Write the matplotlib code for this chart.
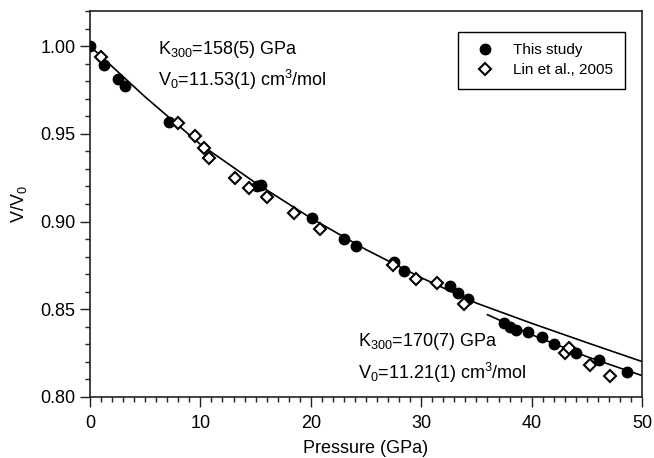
import numpy as np
import matplotlib
matplotlib.use("Agg")
import matplotlib.pyplot as plt
from matplotlib.ticker import MultipleLocator, FormatStrFormatter

plt.rcParams['font.family'] = ['Liberation Sans', 'DejaVu Sans']
plt.rcParams['mathtext.fontset'] = 'custom'
plt.rcParams['mathtext.rm'] = 'Liberation Sans'
plt.rcParams['mathtext.it'] = 'Liberation Sans:italic'

# -------- data --------
this_p = [0.0, 1.3, 2.5, 3.2, 7.2, 15.1, 15.5, 20.1, 23.0, 24.1, 27.5, 28.4,
          32.6, 33.3, 34.2, 37.5, 38.0, 38.6, 39.7, 40.9, 42.0, 44.0, 46.1, 48.6]
this_v = [1.000, 0.989, 0.981, 0.977, 0.957, 0.920, 0.921, 0.902, 0.890, 0.886, 0.877, 0.872,
          0.863, 0.859, 0.856, 0.842, 0.840, 0.838, 0.837, 0.834, 0.830, 0.825, 0.821, 0.814]

lin_p = [1.0, 8.0, 9.5, 10.3, 10.8, 13.1, 14.4, 16.0, 18.5, 20.8, 27.4, 29.5,
         31.4, 33.9, 43.0, 43.4, 45.3, 47.1]
lin_v = [0.994, 0.956, 0.949, 0.942, 0.936, 0.925, 0.919, 0.914, 0.905, 0.896, 0.875, 0.867,
         0.865, 0.853, 0.825, 0.828, 0.818, 0.812]

# fitted EOS curves
fit1_p = [0, 5, 10, 15, 20, 25, 30, 35, 40, 45, 50]
fit1_v = [1.000, 0.971, 0.944, 0.922, 0.902, 0.884, 0.868, 0.8535, 0.842, 0.831, 0.8202]
fit2_p = [36, 40, 45, 50]
fit2_v = [0.8469, 0.8355, 0.8230, 0.8122]

# -------- plot --------
fig = plt.figure(figsize=(6.54, 4.58), dpi=100)
ax = fig.add_axes([0.1376, 0.1332, 0.8441, 0.8428])

ax.plot(fit1_p, fit1_v, color='black', lw=1.2, zorder=1)
ax.plot(fit2_p, fit2_v, color='black', lw=1.2, zorder=1)
h1, = ax.plot(this_p, this_v, 'o', color='black', ms=7.5, zorder=3, label='This study')
h2, = ax.plot(lin_p, lin_v, 'D', mfc='white', mec='black', mew=1.5, ms=6.5, zorder=4,
              label='Lin et al., 2005')

ax.set_xlim(0, 50)
ax.set_ylim(0.80, 1.02)
ax.xaxis.set_major_locator(MultipleLocator(10))
ax.xaxis.set_minor_locator(MultipleLocator(1))
ax.yaxis.set_major_locator(MultipleLocator(0.05))
ax.yaxis.set_minor_locator(MultipleLocator(0.01))
ax.yaxis.set_major_formatter(FormatStrFormatter('%.2f'))
ax.tick_params(which='major', direction='out', length=7, width=1, labelsize=13, colors='#222222')
ax.tick_params(which='minor', direction='out', length=3.5, width=1, colors='#222222')
ax.tick_params(axis='both', labelcolor='black')
ax.tick_params(axis='x', pad=6)
for s in ax.spines.values():
    s.set_linewidth(1.2)
    s.set_color('#222222')

ax.set_xlabel('Pressure (GPa)', fontsize=13, labelpad=6)
ax.set_ylabel('V/V$_0$', fontsize=13, labelpad=8)

ax.text(6.2, 0.9982, 'K$_{300}$=158(5) GPa', fontsize=13, va='center')
ax.text(6.2, 0.9808, 'V$_0$=11.53(1) cm$^3$/mol', fontsize=13, va='center')
ax.text(24.3, 0.8316, 'K$_{300}$=170(7) GPa', fontsize=13, va='center')
ax.text(24.3, 0.8138, 'V$_0$=11.21(1) cm$^3$/mol', fontsize=13, va='center')

leg = ax.legend(handles=[h1, h2], loc='upper right', bbox_to_anchor=(0.969, 0.946),
                borderaxespad=0, fontsize=11, fancybox=False, framealpha=1,
                edgecolor='black', borderpad=0.75, handlelength=2.1,
                handletextpad=0.8, labelspacing=0.4)
leg.get_frame().set_linewidth(1.0)

fig.savefig('out.png', dpi=100)
